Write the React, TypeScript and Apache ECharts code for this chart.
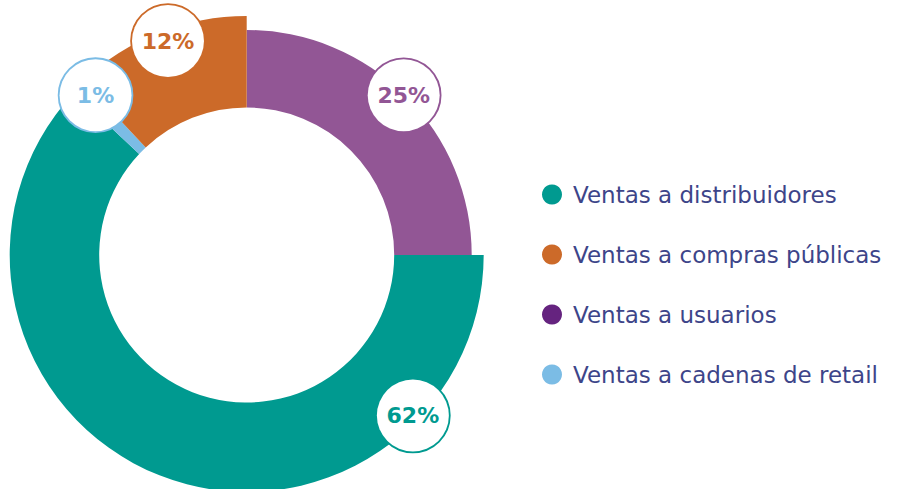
import React, { useEffect, useRef } from "react";
import * as echarts from "echarts";

// Slices in drawing order, clockwise from 12 o'clock
const sliceNames = [
  "Ventas a usuarios",
  "Ventas a distribuidores",
  "Ventas a cadenas de retail",
  "Ventas a compras públicas",
];
const sliceValues = [25, 62, 1, 12];
const sliceColors = ["#925695", "#009a90", "#7bbce5", "#cc6a29"];

// Legend order and icon colours
const legendNames = [
  "Ventas a distribuidores",
  "Ventas a compras públicas",
  "Ventas a usuarios",
  "Ventas a cadenas de retail",
];
const legendColors = ["#009a90", "#cc6a29", "#65237f", "#7bbce5"];

export default function App() {
  const ref = useRef<HTMLDivElement>(null);

  useEffect(() => {
    document.body.style.margin = "0";
    if (!ref.current) return;
    const chart = echarts.init(ref.current, undefined, { renderer: "svg" });
    const cx = 246.7;
    const cy = 255;
    const innerR = 147.5;
    const outerR = [225, 237, 237, 239];
    // label placement: angle clockwise from top (deg) and radius (px)
    const labelPlace = [
      { a: 44.5, r: 224 },
      { a: 134, r: 231 },
      { a: 316.6, r: 220 },
      { a: 339.8, r: 228 },
    ];
    const transparent = "rgba(0,0,0,0)";

    const sliceSeries = sliceNames.map((_, idx) => ({
      type: "pie",
      silent: true,
      startAngle: 90,
      clockwise: true,
      center: [cx, cy],
      radius: [innerR, outerR[idx]],
      avoidLabelOverlap: false,
      label: { show: false },
      labelLine: { show: false },
      emphasis: { disabled: true },
      data: sliceNames.map((n, i) => ({
        name: n,
        value: sliceValues[i],
        itemStyle: { color: i === idx ? sliceColors[i] : transparent, borderWidth: 0 },
      })),
    }));

    const labelSeries = {
      type: "pie",
      silent: true,
      z: 10,
      startAngle: 90,
      clockwise: true,
      center: [cx, cy],
      radius: [219, 229],
      avoidLabelOverlap: false,
      labelLine: { show: false },
      emphasis: { disabled: true },
      label: {
        show: true,
        position: "inside",
        formatter: "{c}%",
        fontFamily: "DejaVu Sans",
        fontWeight: "bold",
        fontSize: 22,
        backgroundColor: "#ffffff",
        borderWidth: 1.8,
        borderRadius: 36,
        width: 72,
        height: 72,
        lineHeight: 72,
        align: "center",
        verticalAlign: "middle",
        padding: 0,
      },
      labelLayout: (params: any) => {
        const p = labelPlace[params.dataIndex];
        const rad = (p.a * Math.PI) / 180;
        return {
          x: cx + p.r * Math.sin(rad),
          y: cy - p.r * Math.cos(rad),
          align: "center",
          verticalAlign: "middle",
        };
      },
      data: sliceNames.map((n, i) => ({
        name: n,
        value: sliceValues[i],
        itemStyle: { color: transparent },
        label: { color: sliceColors[i], borderColor: sliceColors[i] },
      })),
    };

    chart.setOption({
      animation: false,
      textStyle: { fontFamily: "DejaVu Sans" },
      legend: {
        orient: "vertical",
        left: 542,
        top: 183,
        padding: 0,
        icon: "circle",
        itemWidth: 20,
        itemHeight: 20,
        itemGap: 37,
        selectedMode: false,
        textStyle: {
          color: "#3d4589",
          fontSize: 23,
          lineHeight: 20,
          fontFamily: "DejaVu Sans",
          padding: [0, 0, 0, 6],
        },
        data: legendNames.map((n, i) => ({
          name: n,
          itemStyle: { color: legendColors[i] },
        })),
      },
      series: [...sliceSeries, labelSeries],
    });

    return () => chart.dispose();
  }, []);

  return <div ref={ref} style={{ width: "908px", height: "489px" }} />;
}
